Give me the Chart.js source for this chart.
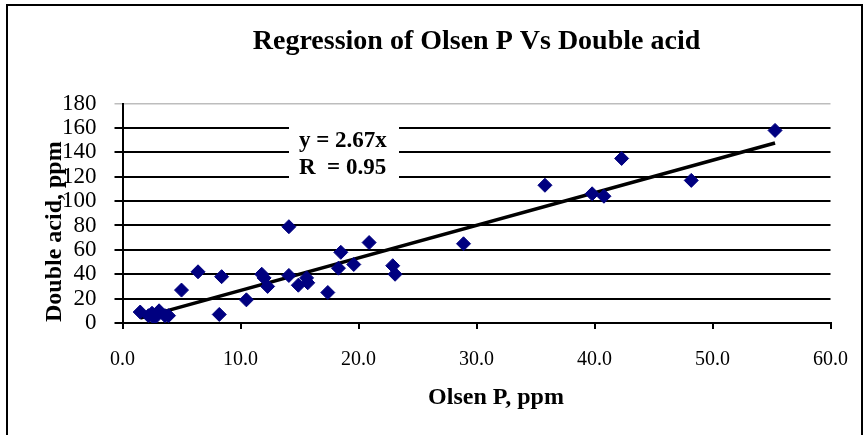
<!DOCTYPE html>
<html>
<head>
<meta charset="utf-8">
<script src="https://cdn.jsdelivr.net/npm/chart.js@4.4.1/dist/chart.umd.min.js"></script>
<style>
  html, body { margin: 0; padding: 0; background: #fff; }
  #box { width: 867px; height: 435px; }
</style>
</head>
<body>
<div id="box"><canvas id="grafico"></canvas></div>
<script>
// Olsen P (x) and Double acid (y), ppm
var olsenP = [1.5, 2.2, 2.5, 2.7, 3.1, 3.6, 3.9, 5.0, 6.4, 8.2, 8.4, 10.5, 11.8, 12.0, 12.3,
              14.1, 14.1, 14.9, 15.6, 15.7, 17.4, 18.3, 18.5, 19.6, 20.9, 22.9, 23.1,
              28.9, 35.8, 39.8, 40.8, 42.3, 48.2, 55.3];
var doubleAcid = [9, 6, 8, 4, 10, 6, 6, 27, 42, 7, 38, 19, 40, 37, 30,
                  79, 39, 31, 37, 33, 25, 45, 58, 48, 66, 47, 40,
                  65, 113, 106, 104, 135, 117, 158];
var slope = 2.67;
var equationLines = ['y = 2.67x', 'R  = 0.95'];
var xMax = 60, xStep = 10;
var yMax = 180, yStep = 20;

var serif = "'Liberation Serif', 'Times New Roman', serif";

function montarPontos() {
    var pts = [];
    for (var i = 0; i < olsenP.length; i++) {
        pts.push({ x: olsenP[i], y: doubleAcid[i] });
    }
    return pts;
}

function montarTendencia() {
    var lo = Math.min.apply(null, olsenP);
    var hi = Math.max.apply(null, olsenP);
    return [{ x: lo, y: slope * lo }, { x: hi, y: slope * hi }];
}

// white page, outer frame, equation box and axis titles
var extras = {
    id: 'extras',
    beforeDraw: function (chart) {
        var ctx = chart.ctx;
        ctx.save();
        ctx.fillStyle = '#fff';
        ctx.fillRect(0, 0, chart.width, chart.height);
        ctx.restore();
    },
    afterDatasetsDraw: function (chart) {
        var ctx = chart.ctx;
        ctx.save();
        ctx.fillStyle = '#fff';
        ctx.fillRect(289, 120, 110, 64);
        ctx.fillStyle = '#000';
        ctx.font = 'bold 23px ' + serif;
        ctx.textBaseline = 'middle';
        ctx.textAlign = 'left';
        ctx.fillText(equationLines[0], 299, 141);
        ctx.fillText(equationLines[1], 299, 168);
        ctx.restore();
    },
    afterDraw: function (chart) {
        var ctx = chart.ctx;
        var area = chart.chartArea;
        ctx.save();
        ctx.strokeStyle = '#000';
        ctx.lineWidth = 2;
        ctx.beginPath();
        ctx.moveTo(7, 440);
        ctx.lineTo(7, 5);
        ctx.lineTo(862, 5);
        ctx.lineTo(862, 440);
        ctx.stroke();

        ctx.fillStyle = '#000';
        ctx.font = 'bold 24px ' + serif;
        ctx.textBaseline = 'middle';

        // x axis title
        ctx.textAlign = 'center';
        ctx.fillText('Olsen P, ppm', 496, 398);

        // y axis title, starts near the bottom of the plot
        ctx.translate(55, area.bottom);
        ctx.rotate(-Math.PI / 2);
        ctx.textAlign = 'left';
        ctx.fillText('Double acid, ppm', 1, 0);
        ctx.restore();
    }
};

function inicializarGrafico() {
    new Chart(document.getElementById('grafico').getContext('2d'), {
        type: 'scatter',
        data: {
            datasets: [{
                label: 'Double acid',
                data: montarPontos(),
                pointStyle: 'rectRot',
                pointRadius: 7,
                backgroundColor: '#000080',
                borderColor: '#000080',
                borderWidth: 1,
                order: 1
            }, {
                type: 'line',
                label: 'Linear',
                data: montarTendencia(),
                borderColor: '#000',
                borderWidth: 3.5,
                pointRadius: 0,
                fill: false,
                order: 2
            }]
        },
        options: {
            responsive: true,
            maintainAspectRatio: false,
            animation: false,
            layout: { padding: { top: 0, right: 26, bottom: 44, left: 44 } },
            plugins: {
                legend: { display: false },
                tooltip: { enabled: false },
                title: {
                    display: true,
                    fullSize: false,
                    text: 'Regression of Olsen P Vs Double acid',
                    color: '#000',
                    font: { family: serif, size: 28, weight: 'bold' },
                    padding: { top: 25, bottom: 45 }
                }
            },
            scales: {
                x: {
                    type: 'linear',
                    min: 0,
                    max: xMax,
                    border: { color: '#000', width: 2 },
                    grid: { drawOnChartArea: false, color: '#000', lineWidth: 2, tickLength: 6 },
                    ticks: {
                        stepSize: xStep,
                        autoSkip: false,
                        color: '#000',
                        padding: 19,
                        font: { family: serif, size: 20 },
                        callback: function (v) { return v.toFixed(1); }
                    }
                },
                y: {
                    min: 0,
                    max: yMax,
                    border: { color: '#000', width: 2 },
                    grid: {
                        lineWidth: function (c) { return c.tick && c.tick.value === yMax ? 1.5 : 2; },
                        color: function (c) { return c.tick && c.tick.value === yMax ? '#bdbdbd' : '#000'; },
                        tickLength: 8
                    },
                    ticks: {
                        stepSize: yStep,
                        autoSkip: false,
                        color: '#000',
                        padding: 18,
                        font: { family: serif, size: 23 }
                    }
                }
            }
        },
        plugins: [extras]
    });
}

window.onload = inicializarGrafico;
</script>
</body>
</html>
